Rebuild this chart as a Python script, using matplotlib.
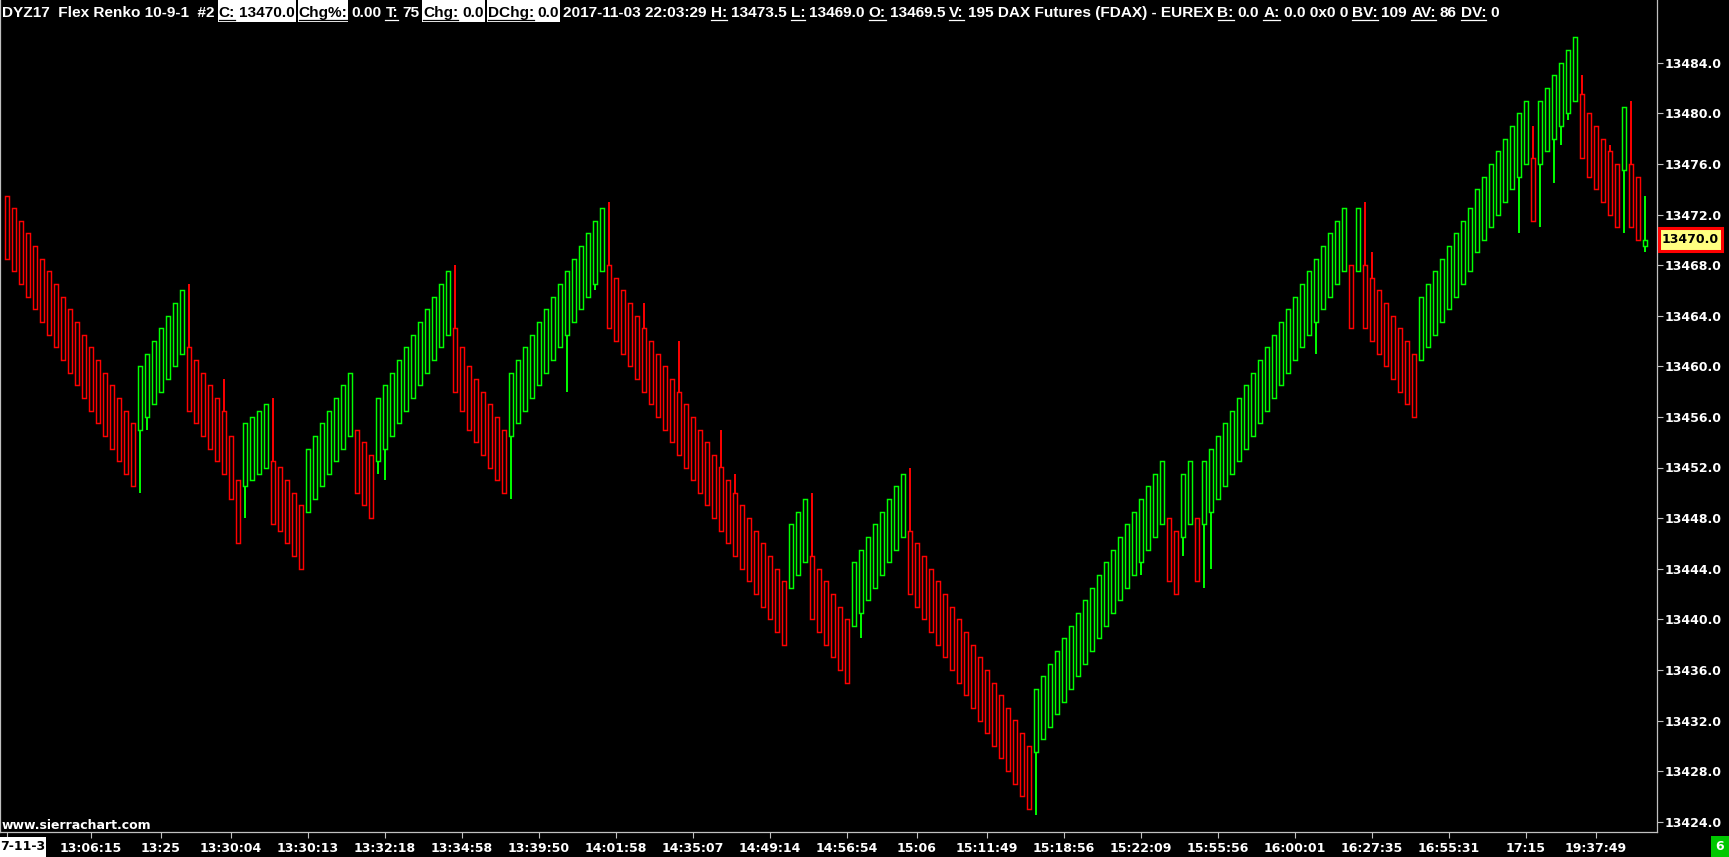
import matplotlib
matplotlib.use("Agg")
import matplotlib.pyplot as plt
from matplotlib.patches import Rectangle
from matplotlib.lines import Line2D
from matplotlib.transforms import IdentityTransform

plt.rcParams['font.family'] = ['DejaVu Sans']
plt.rcParams['font.weight'] = 'bold'

W, H, DPI = 1729, 857, 100
BRICK = 5.0  # body size of a finished bar, in points

# body top of every finished bar
tops = [
    13473.5, 13472.5, 13471.5, 13470.5, 13469.5, 13468.5, 13467.5, 13466.5, 13465.5, 13464.5,
    13463.5, 13462.5, 13461.5, 13460.5, 13459.5, 13458.5, 13457.5, 13456.5, 13455.5,
    13460.0, 13461.0, 13462.0, 13463.0, 13464.0, 13465.0, 13466.0,
    13461.5, 13460.5, 13459.5, 13458.5, 13457.5, 13456.5, 13454.5, 13451.0,
    13455.5, 13456.0, 13456.5, 13457.0,
    13452.5, 13452.0, 13451.0, 13450.0, 13449.0,
    13453.5, 13454.5, 13455.5, 13456.5, 13457.5, 13458.5, 13459.5,
    13455.0, 13454.0, 13453.0,
    13457.5, 13458.5, 13459.5, 13460.5, 13461.5, 13462.5, 13463.5, 13464.5, 13465.5, 13466.5,
    13467.5,
    13463.0, 13461.5, 13460.0, 13459.0, 13458.0, 13457.0, 13456.0, 13455.0,
    13459.5, 13460.5, 13461.5, 13462.5, 13463.5, 13464.5, 13465.5, 13466.5, 13467.5, 13468.5,
    13469.5, 13470.5, 13471.5, 13472.5,
    13468.0, 13467.0, 13466.0, 13465.0, 13464.0, 13463.0, 13462.0, 13461.0, 13460.0, 13459.0,
    13458.0, 13457.0, 13456.0, 13455.0, 13454.0, 13453.0, 13452.0, 13451.0, 13450.0, 13449.0,
    13448.0, 13447.0, 13446.0, 13445.0, 13444.0, 13443.0,
    13447.5, 13448.5, 13449.5,
    13445.0, 13444.0, 13443.0, 13442.0, 13441.0, 13440.0,
    13444.5, 13445.5, 13446.5, 13447.5, 13448.5, 13449.5, 13450.5, 13451.5,
    13447.0, 13446.0, 13445.0, 13444.0, 13443.0, 13442.0, 13441.0, 13440.0, 13439.0, 13438.0,
    13437.0, 13436.0, 13435.0, 13434.0, 13433.0, 13432.0, 13431.0, 13430.0,
    13434.5, 13435.5, 13436.5, 13437.5, 13438.5, 13439.5, 13440.5, 13441.5, 13442.5, 13443.5,
    13444.5, 13445.5, 13446.5, 13447.5, 13448.5, 13449.5, 13450.5, 13451.5, 13452.5,
    13448.0, 13447.0,
    13451.5, 13452.5,
    13448.0,
    13452.5, 13453.5, 13454.5, 13455.5, 13456.5, 13457.5, 13458.5, 13459.5, 13460.5, 13461.5,
    13462.5, 13463.5, 13464.5, 13465.5, 13466.5, 13467.5, 13468.5, 13469.5, 13470.5, 13471.5,
    13472.5,
    13468.0,
    13472.5,
    13468.0, 13467.0, 13466.0, 13465.0, 13464.0, 13463.0, 13462.0, 13461.0,
    13465.5, 13466.5, 13467.5, 13468.5, 13469.5, 13470.5, 13471.5, 13472.5, 13474.0, 13475.0,
    13476.0, 13477.0, 13478.0, 13479.0, 13480.0, 13481.0,
    13476.5,
    13481.0, 13482.0, 13483.0, 13484.0, 13485.0, 13486.0,
    13481.5, 13480.0, 13479.0, 13478.0, 13477.0, 13476.0,
    13480.5,
    13476.0, 13475.0,
]

# G = up bar, R = down bar
directions = (
    "RRRRRRRRRRRRRRRRRRR" "GGGGGGG" "RRRRRRRR" "GGGG" "RRRRR" "GGGGGGG" "RRR"
    "GGGGGGGGGGG" "RRRRRRRR" "GGGGGGGGGGGGGG" "RRRRRRRRRRRRRRRRRRRRRRRRRR" "GGG"
    "RRRRRR" "GGGGGGGG" "RRRRRRRRRRRRRRRRRR" "GGGGGGGGGGGGGGGGGGG" "RR" "GG" "R"
    "GGGGGGGGGGGGGGGGGGGGG" "R" "G" "RRRRRRRR" "GGGGGGGGGGGGGGGG" "R" "GGGGGG"
    "RRRRRR" "G" "RR"
)

# bar still forming
last_open, last_close, last_high, last_low = 13469.5, 13470.0, 13473.5, 13469.0

wick_high = {26: 13466.5, 31: 13459.0, 38: 13457.5, 64: 13468.0, 86: 13473.0, 91: 13465.0,
             96: 13462.0, 102: 13455.0, 104: 13451.5, 115: 13450.0, 129: 13452.0,
             194: 13473.0, 195: 13469.0, 218: 13479.0, 225: 13483.0, 229: 13477.5,
             232: 13481.0}
wick_low = {19: 13450.0, 20: 13455.0, 34: 13448.0, 53: 13451.5, 54: 13451.0, 72: 13449.5,
            80: 13458.0, 84: 13466.0, 122: 13438.5, 147: 13424.5, 162: 13443.5,
            168: 13445.0, 171: 13442.5, 172: 13444.0, 187: 13461.0, 216: 13470.5,
            219: 13471.0, 221: 13474.5, 222: 13477.5, 223: 13479.5, 231: 13470.5}

price_ticks = list(range(13424, 13485, 4))
time_tick_bars = [0, 12, 22, 32, 43, 54, 65, 76, 87, 98, 109, 120, 130, 140, 151, 162,
                  173, 184, 195, 206, 217, 227]
time_labels = ["", "13:06:15", "13:25", "13:30:04", "13:30:13", "13:32:18",
               "13:34:58", "13:39:50", "14:01:58", "14:35:07", "14:49:14", "14:56:54",
               "15:06", "15:11:49", "15:18:56", "15:22:09", "15:55:56", "16:00:01",
               "16:27:35", "16:55:31", "17:15", "19:37:49"]
date_label = "7-11-3"

header_items = [
    ("", "DYZ17  Flex Renko 10-9-1  #2", "plain"),
    ("C:", "13470.0", "box"),
    ("Chg%:", "0.00", "boxlabel"),
    ("T:", "75", "plain"),
    ("Chg:", "0.0", "box"),
    ("DChg:", "0.0", "box"),
    ("", "2017-11-03 22:03:29", "plain"),
    ("H:", "13473.5", "plain"),
    ("L:", "13469.0", "plain"),
    ("O:", "13469.5", "plain"),
    ("V:", "195 DAX Futures (FDAX) - EUREX", "plain"),
    ("B:", "0.0", "plain"),
    ("A:", "0.0 0x0 0", "plain"),
    ("BV:", "109", "plain"),
    ("AV:", "86", "plain"),
    ("DV:", "0", "plain"),
]

assert len(directions) == len(tops), (len(directions), len(tops))

UP, DOWN, GRID = '#00ff00', '#ff0000', '#c0c0c0'

fig = plt.figure(figsize=(W / DPI, H / DPI), dpi=DPI, facecolor='black')
ax = fig.add_axes([0, 25 / H, 1657 / W, 832 / H])
ax.set_facecolor('black')

n = len(tops)
xs = list(range(n))
cols = [UP if d == 'G' else DOWN for d in directions]
bottoms = [t - BRICK for t in tops]

# wicks
wx, wy0, wy1, wc = [], [], [], []
for i, hi in wick_high.items():
    wx.append(i); wy0.append(tops[i]); wy1.append(hi); wc.append(cols[i])
for i, lo in wick_low.items():
    wx.append(i); wy0.append(lo); wy1.append(bottoms[i]); wc.append(cols[i])
wx += [n, n]
wy0 += [last_close, last_low]
wy1 += [last_high, last_open]
wc += [UP, UP]
ax.vlines(wx, wy0, wy1, colors=wc, linewidth=1.4, zorder=2)

# bodies
ax.bar(xs, BRICK, bottom=bottoms, width=0.5, fill=False, edgecolor=cols,
       linewidth=1.05, zorder=3)
ax.bar([n], [last_close - last_open], bottom=[last_open], width=0.5, fill=False,
       edgecolor=UP, linewidth=1.05, zorder=3)

ax.set_xlim(-1, (1657 - 7) / 7)
ax.set_ylim(13424 - 10.3 / 12.65, 13424 + 821.7 / 12.65)

ax.spines['top'].set_visible(False)
for side in ['left', 'right', 'bottom']:
    ax.spines[side].set_color(GRID)
    ax.spines[side].set_linewidth(0.9)

ax.yaxis.tick_right()
ax.tick_params(axis='both', colors=GRID, labelcolor='white', labelsize=9, length=4,
               width=0.8, direction='out')
ax.tick_params(axis='y', pad=1.5)
ax.tick_params(axis='x', pad=3)
ax.set_yticks(price_ticks)
ax.set_yticklabels([f"{p:.1f}" for p in price_ticks])
ax.set_xticks(time_tick_bars)
ax.set_xticklabels(time_labels)

ident = IdentityTransform()

# date stamp at the left end of the time scale
fig.add_artist(Rectangle((0, 0), 46, 20, transform=ident, facecolor='white',
                         edgecolor='none', zorder=6))
fig.text(0, 10, date_label, transform=ident, color='black', fontsize=9, ha='left',
         va='center', zorder=7)

# last price marker on the price scale
fig.add_artist(Rectangle((1658.5, H - 251), 63.5, 23, transform=ident, facecolor='#ffff80',
                         edgecolor='#ff0000', linewidth=2.2, zorder=6))
fig.text(1690, H - 239.5, "13470.0", transform=ident, color='black', fontsize=9,
         ha='center', va='center', zorder=7)

# bar counter box
fig.add_artist(Rectangle((1711, 0), 18, 21, transform=ident, facecolor='#00c800',
                         edgecolor='none', zorder=6))
fig.text(1720, 10.5, "6", transform=ident, color='white', fontsize=9, ha='center',
         va='center', zorder=7)

fig.text(2, H - 829, "www.sierrachart.com", transform=ident, color='white', fontsize=9,
         va='baseline', zorder=7)

# header line
renderer = fig.canvas.get_renderer()
hdr = dict(family='Liberation Sans', fontsize=11.1, fontweight='bold')
base_y = H - 17
sp = 4.0
x = 2.0
for label, value, kind in header_items:
    start = x
    label_end = x
    if label:
        tc = 'black' if kind in ('box', 'boxlabel') else 'white'
        t = fig.text(x, base_y, label, transform=ident, color=tc, va='baseline',
                     zorder=7, **hdr)
        bb = t.get_window_extent(renderer)
        fig.add_artist(Line2D([bb.x0, bb.x1], [base_y - 2.5] * 2, transform=ident,
                              color=tc, linewidth=0.9, zorder=7))
        label_end = bb.x1
        x = bb.x1 + sp
    tc = 'black' if kind == 'box' else 'white'
    t2 = fig.text(x, base_y, value, transform=ident, color=tc, va='baseline',
                  zorder=7, **hdr)
    bb2 = t2.get_window_extent(renderer)
    if kind == 'box':
        fig.add_artist(Rectangle((start - 1, H - 22), bb2.x1 - start + 2, 22, transform=ident,
                                 facecolor='white', edgecolor='none', zorder=6))
    elif kind == 'boxlabel':
        fig.add_artist(Rectangle((start - 1, H - 22), label_end - start + 2, 22,
                                 transform=ident, facecolor='white', edgecolor='none',
                                 zorder=6))
    x = bb2.x1 + sp

fig.savefig('out.png', dpi=DPI, facecolor='black')
